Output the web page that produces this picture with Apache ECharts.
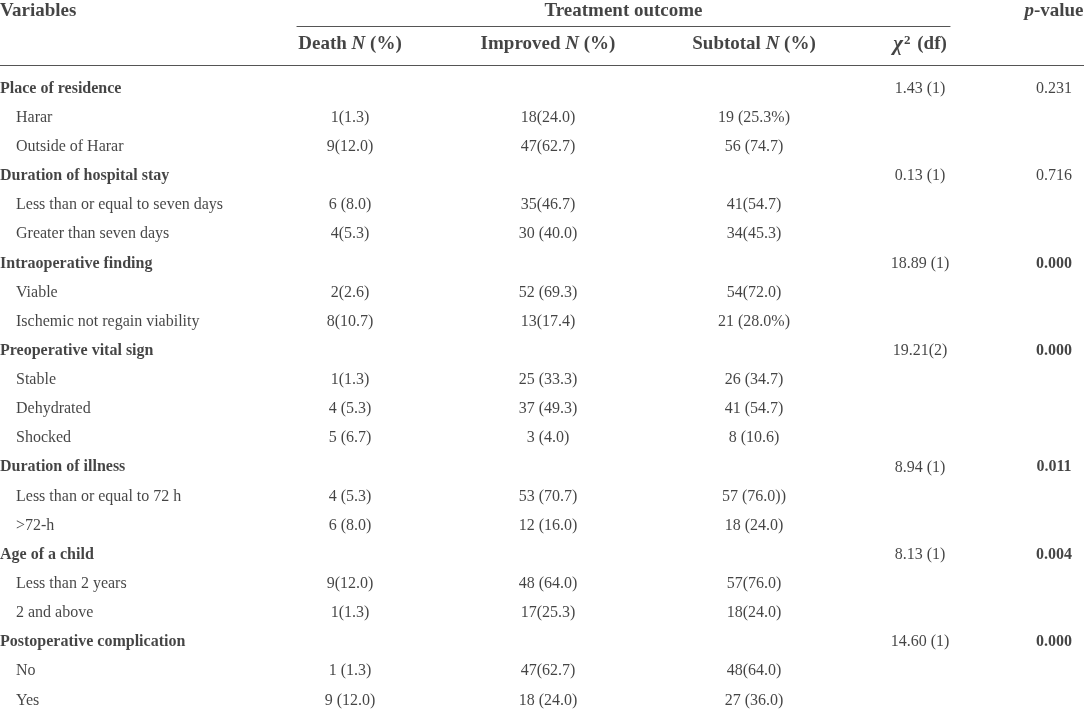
<!DOCTYPE html>
<html>
<head>
<meta charset="utf-8">
<title>Treatment outcome</title>
<script src="https://cdn.jsdelivr.net/npm/echarts@6/dist/echarts.min.js"></script>
<style>
html, body { margin: 0; padding: 0; background: #fff; }
#main { width: 1084px; height: 710px; }
</style>
</head>
<body>
<div id="main"></div>
<script>
/***
Table content
***/

// row labels (group rows are the ones that carry a chi-square value)
var rowLabels = [
  'Place of residence', 'Harar', 'Outside of Harar',
  'Duration of hospital stay', 'Less than or equal to seven days', 'Greater than seven days',
  'Intraoperative finding', 'Viable', 'Ischemic not regain viability',
  'Preoperative vital sign', 'Stable', 'Dehydrated', 'Shocked',
  'Duration of illness', 'Less than or equal to 72 h', '>72-h',
  'Age of a child', 'Less than 2 years', '2 and above',
  'Postoperative complication', 'No', 'Yes'
];
var deathN = [
  '', '1(1.3)', '9(12.0)',
  '', '6 (8.0)', '4(5.3)',
  '', '2(2.6)', '8(10.7)',
  '', '1(1.3)', '4 (5.3)', '5 (6.7)',
  '', '4 (5.3)', '6 (8.0)',
  '', '9(12.0)', '1(1.3)',
  '', '1 (1.3)', '9 (12.0)'
];
var improvedN = [
  '', '18(24.0)', '47(62.7)',
  '', '35(46.7)', '30 (40.0)',
  '', '52 (69.3)', '13(17.4)',
  '', '25 (33.3)', '37 (49.3)', '3 (4.0)',
  '', '53 (70.7)', '12 (16.0)',
  '', '48 (64.0)', '17(25.3)',
  '', '47(62.7)', '18 (24.0)'
];
var subtotalN = [
  '', '19 (25.3%)', '56 (74.7)',
  '', '41(54.7)', '34(45.3)',
  '', '54(72.0)', '21 (28.0%)',
  '', '26 (34.7)', '41 (54.7)', '8 (10.6)',
  '', '57 (76.0))', '18 (24.0)',
  '', '57(76.0)', '18(24.0)',
  '', '48(64.0)', '27 (36.0)'
];
var chiSq = [
  '1.43 (1)', '', '',
  '0.13 (1)', '', '',
  '18.89 (1)', '', '',
  '19.21(2)', '', '', '',
  '8.94 (1)', '', '',
  '8.13 (1)', '', '',
  '14.60 (1)', '', ''
];
var pValue = [
  '0.231', '', '',
  '0.716', '', '',
  '0.000', '', '',
  '0.000', '', '', '',
  '0.011', '', '',
  '0.004', '', '',
  '0.000', '', ''
];

// header texts
var headerTop = ['Variables', 'Treatment outcome', '{pi|p}-value'];
var headerSub = ['Death {i|N} (%)', 'Improved {i|N} (%)', 'Subtotal {i|N} (%)', '{chi|χ}{sup|2} (df)'];

/***
Layout (anchors on the hidden 0..1084 x axis)
***/
var FONT = '"Liberation Serif", "DejaVu Serif", serif';
var INK = '#151515';
var RULE = { color: '#555', width: 1.2 };
var colX = { variable: 0, indent: 16, death: 350, improved: 548, subtotal: 754, chi: 920, p: 1054 };
var groupSpan = { left: 297, right: 950 };

var RICH = {
  i: { fontFamily: FONT, fontSize: 19, fontWeight: 'bold', fontStyle: 'italic', color: INK },
  pi: { fontFamily: FONT, fontSize: 19, fontWeight: 'bold', fontStyle: 'italic', color: INK },
  chi: { fontFamily: FONT, fontSize: 21, fontStyle: 'italic', color: INK },
  sup: { fontFamily: FONT, fontSize: 13, fontWeight: 'bold', verticalAlign: 'top', padding: [0, 2, 6, 1], color: INK }
};

function textSeries(gridIdx, items, size, weight) {
  return {
    type: 'scatter',
    xAxisIndex: gridIdx,
    yAxisIndex: gridIdx,
    symbolSize: 0.1,
    itemStyle: { color: 'rgba(0,0,0,0)' },
    silent: true,
    animation: false,
    label: {
      show: true,
      position: 'inside',
      color: INK,
      fontFamily: FONT,
      fontSize: size,
      fontWeight: weight,
      rich: RICH,
      formatter: function (p) { return p.data.text; }
    },
    data: items
  };
}

// one column of body cells, skipping blanks
function columnCells(texts, x, styleFn) {
  var out = [];
  texts.forEach(function (t, i) {
    if (t === '') return;
    out.push({ value: [x, i], text: t, label: styleFn ? styleFn(t, i) : {} });
  });
  return out;
}

var variableCells = rowLabels.map(function (t, i) {
  var isGroup = chiSq[i] !== '';
  return {
    value: [isGroup ? colX.variable : colX.indent, i],
    text: t,
    label: { align: 'left', fontWeight: isGroup ? 'bold' : 'normal' }
  };
});

var headerTopCells = [
  { value: [colX.variable, 0], text: headerTop[0], label: { align: 'left' } },
  { value: [(groupSpan.left + groupSpan.right) / 2, 0], text: headerTop[1] },
  { value: [colX.p, 0], text: headerTop[2] }
];
var headerSubCells = [colX.death, colX.improved, colX.subtotal, colX.chi].map(function (x, k) {
  return { value: [x, 1], text: headerSub[k] };
});

var chart = echarts.init(document.getElementById('main'), null, { renderer: 'canvas' });

var gridBase = { containLabel: false, outerBoundsMode: 'none' };

chart.setOption({
  backgroundColor: '#fff',
  animation: false,
  grid: [
    Object.assign({ left: 0, right: 0, top: -6, height: 67 }, gridBase),          // header rows
    Object.assign({ left: 0, right: 0, top: 74, height: 641 }, gridBase),         // body rows
    Object.assign({ left: groupSpan.left, width: groupSpan.right - groupSpan.left, top: 0, height: 26 }, gridBase) // group rule
  ],
  xAxis: [
    {
      gridIndex: 0, type: 'value', min: 0, max: 1084, offset: 4,
      axisLine: { show: true, lineStyle: RULE },
      axisTick: { show: false }, axisLabel: { show: false }, splitLine: { show: false }
    },
    { gridIndex: 1, type: 'value', min: 0, max: 1084, show: false },
    {
      gridIndex: 2, type: 'value', min: 0, max: 1,
      axisLine: { show: true, lineStyle: RULE },
      axisTick: { show: false }, axisLabel: { show: false }, splitLine: { show: false }
    }
  ],
  yAxis: [
    { gridIndex: 0, type: 'category', data: ['top', 'sub'], inverse: true, show: false },
    { gridIndex: 1, type: 'category', data: rowLabels, inverse: true, show: false },
    { gridIndex: 2, type: 'value', min: 0, max: 1, show: false }
  ],
  series: [
    textSeries(0, headerTopCells.concat(headerSubCells), 19, 'bold'),
    textSeries(1, variableCells, 16, 'normal'),
    textSeries(1, columnCells(deathN, colX.death), 16, 'normal'),
    textSeries(1, columnCells(improvedN, colX.improved), 16, 'normal'),
    textSeries(1, columnCells(subtotalN, colX.subtotal), 16, 'normal'),
    textSeries(1, columnCells(chiSq, colX.chi), 16, 'normal'),
    // significant p-values (< 0.05) are set in bold
    textSeries(1, columnCells(pValue, colX.p, function (t) {
      return { fontWeight: parseFloat(t) < 0.05 ? 'bold' : 'normal' };
    }), 16, 'normal')
  ]
});
</script>
</body>
</html>
